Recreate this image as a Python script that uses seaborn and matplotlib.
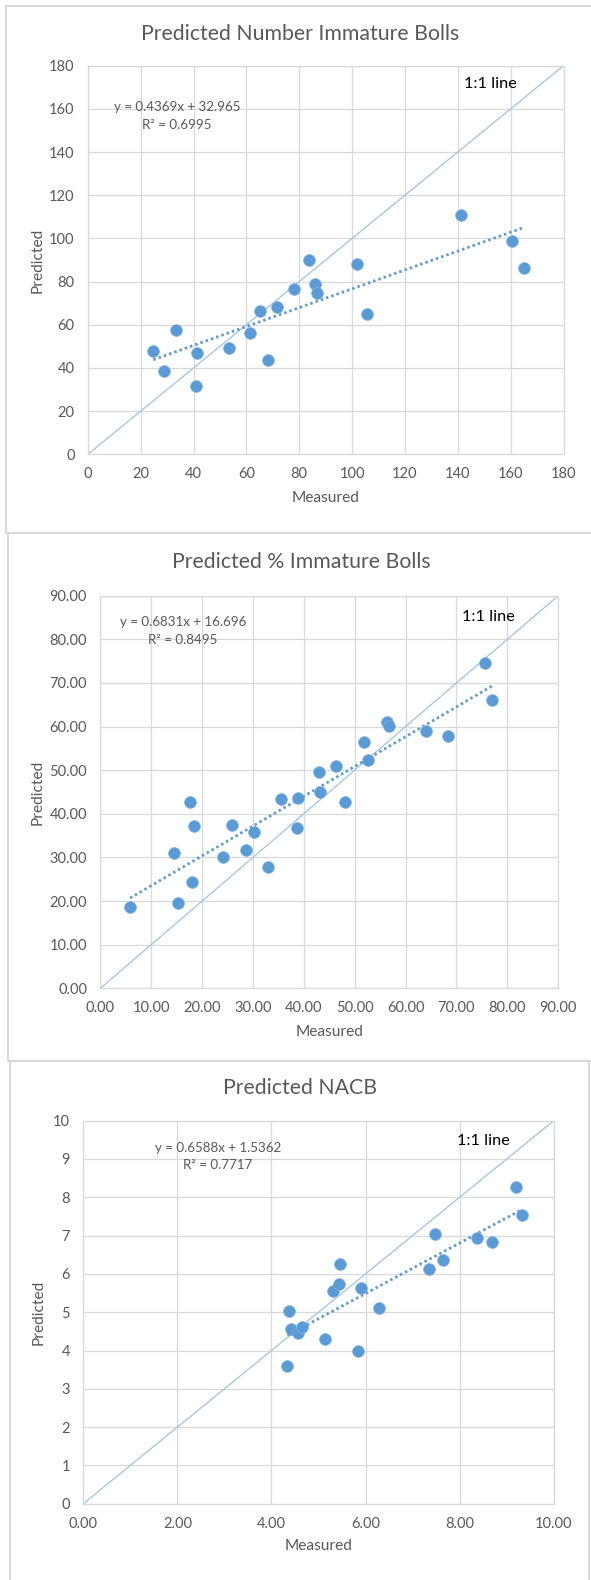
import numpy as np
import pandas as pd
import matplotlib
matplotlib.use("Agg")
import matplotlib.pyplot as plt
from matplotlib.lines import Line2D
import seaborn as sns

# ---------------- data ----------------
titles = ["Predicted Number Immature Bolls", "Predicted % Immature Bolls", "Predicted NACB"]

nib_measured = [24.8, 28.7, 33.4, 41.5, 41.1, 53.3, 61.5, 65.0, 68.0, 71.6,
                77.9, 83.7, 85.9, 86.6, 102.0, 105.5, 141.1, 160.7, 165.0]
nib_predicted = [48.0, 38.7, 57.4, 46.9, 31.8, 49.1, 56.2, 66.2, 43.7, 68.2,
                 76.7, 90.0, 78.9, 74.7, 88.1, 65.1, 110.7, 98.6, 86.4]

pib_measured = [5.85, 14.4, 15.3, 17.6, 18.1, 18.5, 24.2, 25.9, 28.7, 30.2, 33.0,
                35.6, 38.6, 38.8, 43.0, 43.1, 46.3, 48.1, 51.9, 52.6, 56.4, 56.7,
                64.0, 68.4, 75.7, 77.0]
pib_predicted = [18.7, 31.1, 19.6, 42.7, 24.4, 37.2, 30.2, 37.4, 31.8, 35.8, 27.8,
                 43.3, 36.8, 43.6, 49.5, 44.9, 51.0, 42.7, 56.5, 52.3, 61.1, 60.1,
                 58.9, 57.8, 74.5, 66.1]

nacb_measured = [4.34, 4.38, 4.41, 4.57, 4.64, 5.13, 5.30, 5.43, 5.45, 5.84,
                 5.91, 6.29, 7.34, 7.48, 7.65, 8.38, 8.69, 9.19, 9.33]
nacb_predicted = [3.59, 5.04, 4.55, 4.46, 4.62, 4.29, 5.55, 5.74, 6.26, 3.99,
                  5.62, 5.10, 6.13, 7.03, 6.37, 6.93, 6.82, 8.27, 7.55]

slopes = [0.4369, 0.6831, 0.6588]
intercepts = [32.965, 16.696, 1.5362]
equations = ["y = 0.4369x + 32.965", "y = 0.6831x + 16.696", "y = 0.6588x + 1.5362"]
r2_texts = ["R² = 0.6995", "R² = 0.8495", "R² = 0.7717"]

axis_max = [180, 90, 10]
tick_steps = [20, 10, 1]
xtick_steps = [20, 10, 2]
xtick_fmt = ["{:.0f}", "{:.2f}", "{:.2f}"]
ytick_fmt = ["{:.0f}", "{:.2f}", "{:.0f}"]

# ---------------- style ----------------
sns.set_theme(style="white")
plt.rcParams["font.family"] = ["Lato", "DejaVu Sans"]

W, H = 591, 1580
fig = plt.figure(figsize=(W / 100, H / 100), dpi=100)
fig.patch.set_facecolor("white")

POINT = "#5B9BD5"
ONE = "#9DC3E6"
GRID = "#D9D9D9"
TXT = "#595959"

def fx(px):
    return px / W

def fy(py):
    return 1 - py / H

# axes rectangles in pixel coords: (left, right, top, bottom)
boxes = [(87.8, 563.5, 65.7, 454.3),
         (100.3, 558.2, 595.7, 988.3),
         (83.3, 553.7, 1120.7, 1503.7)]
title_y = [33.5, 562.5, 1088.5]
title_x = [300, 301, 300]
eq_pos = [(177, 107, 125), (183, 622, 640), (218, 1148, 1165)]
one_pos = [(463.6, 84), (461.7, 617.3), (457.2, 1141)]
meas_y = [498, 1031.7, 1545.7]
pred_x = [37.7, 37.7, 39.0]

datasets = [(nib_measured, nib_predicted),
            (pib_measured, pib_predicted),
            (nacb_measured, nacb_predicted)]

for i in range(3):
    l, r, t, b = boxes[i]
    ax = fig.add_axes([fx(l), fy(b), (r - l) / W, (b - t) / H])
    mx = axis_max[i]
    xs, ys = datasets[i]
    df = pd.DataFrame({"Measured": xs, "Predicted": ys})

    # 1:1 line
    sns.lineplot(x=[0, mx], y=[0, mx], ax=ax, color=ONE, lw=0.9, zorder=2)
    # trend line
    x0, x1 = min(xs), max(xs)
    sns.lineplot(x=[x0, x1], y=[slopes[i] * x0 + intercepts[i], slopes[i] * x1 + intercepts[i]],
                 ax=ax, color=POINT, lw=2.0, linestyle=(0, (0.9, 1.1)), zorder=3)
    # points
    sns.scatterplot(data=df, x="Measured", y="Predicted", ax=ax, color=POINT, s=72,
                    edgecolor="#7FB2E0", linewidth=0.5, zorder=4)

    ax.set_xlim(0, mx)
    ax.set_ylim(0, mx)
    yt = np.arange(0, mx + 1e-9, tick_steps[i])
    xt = np.arange(0, mx + 1e-9, xtick_steps[i])
    ax.set_yticks(yt)
    ax.set_xticks(xt)
    ax.set_yticklabels([ytick_fmt[i].format(v) for v in yt])
    ax.set_xticklabels([xtick_fmt[i].format(v) for v in xt])
    ax.tick_params(axis="both", length=0, labelsize=10.5, labelcolor=TXT)
    ax.tick_params(axis="y", pad=9.5)
    ax.tick_params(axis="x", pad=9.5)
    ax.grid(True, color=GRID, lw=0.9)
    ax.set_axisbelow(True)
    for s in ax.spines.values():
        s.set_color(GRID)
        s.set_linewidth(0.9)
    ax.set_xlabel("")
    ax.set_ylabel("")

    fig.text(fx((l + r) / 2), fy(meas_y[i]), "Measured", ha="center", va="center",
             fontsize=11.2, color=TXT)
    fig.text(fx(pred_x[i]), fy((t + b) / 2), "Predicted", ha="center", va="center",
             rotation=90, fontsize=11.2, color=TXT)
    fig.text(fx(title_x[i]), fy(title_y[i]), titles[i], ha="center", va="center",
             fontsize=15.3, color=TXT)
    ex, ey, ry = eq_pos[i]
    fig.text(fx(ex), fy(ey), equations[i], ha="center", va="center", fontsize=9.6, color=TXT)
    fig.text(fx(ex), fy(ry), r2_texts[i], ha="center", va="center", fontsize=9.6, color=TXT)
    ox, oy = one_pos[i]
    fig.text(fx(ox), fy(oy), "1:1 line", ha="left", va="center", fontsize=11.8, color="black")

# panel frames
BORDER = "#D6D6D6"
frame_lines = [
    ((6.3, 591), (6, 6)), ((6.3, 6.3), (6, 533)), ((6.3, 591), (533, 533)),
    ((7.5, 7.5), (533, 1061)), ((7.5, 591), (1061, 1061)),
    ((10.3, 10.3), (1061, 1580)), ((589, 589), (1061, 1580)),
]
for (xa, xb), (ya, yb) in frame_lines:
    fig.add_artist(Line2D([fx(xa), fx(xb)], [fy(ya), fy(yb)], color=BORDER, lw=1.3))

fig.savefig("out.png", dpi=100, facecolor="white")
